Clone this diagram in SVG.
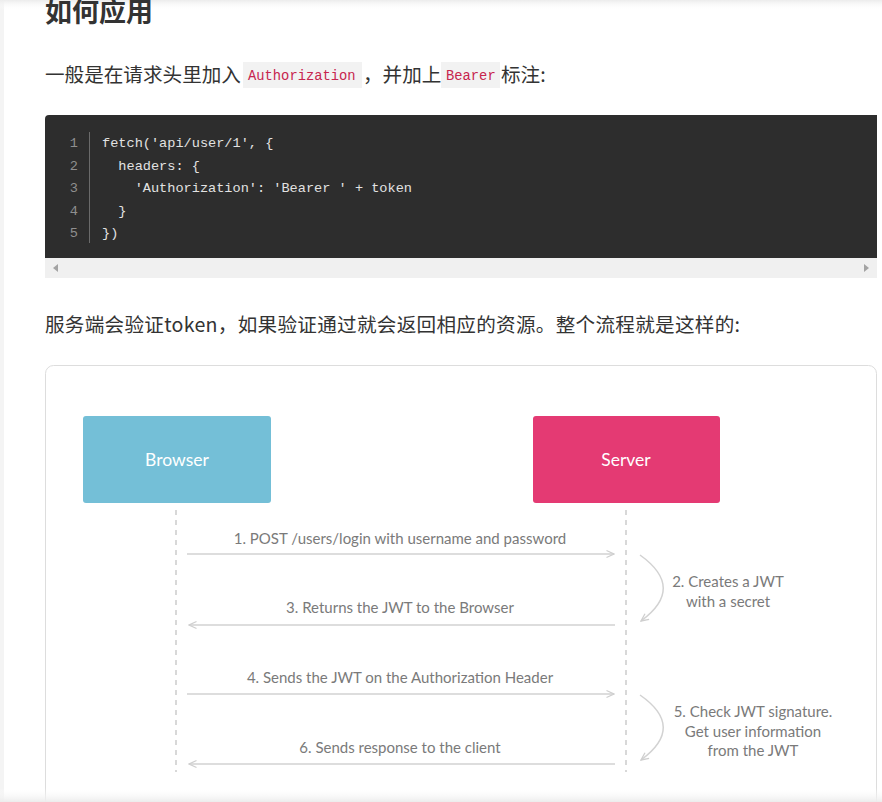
<svg xmlns="http://www.w3.org/2000/svg" width="882" height="802" viewBox="0 0 882 802">
<defs>
  <linearGradient id="topfade" x1="0" y1="0" x2="0" y2="1">
    <stop offset="0" stop-color="#ececec"/>
    <stop offset="1" stop-color="#ffffff" stop-opacity="0"/>
  </linearGradient>
  <linearGradient id="botfade" x1="0" y1="0" x2="0" y2="1">
    <stop offset="0" stop-color="#ffffff" stop-opacity="0"/>
    <stop offset="1" stop-color="#ececec"/>
  </linearGradient>
  <marker id="arr" viewBox="0 0 10 10" refX="9" refY="5" markerWidth="10" markerHeight="10" markerUnits="userSpaceOnUse" orient="auto">
    <path d="M1.5,1.5 L9,5 L1.5,8.5" fill="none" stroke="#cfcfcf" stroke-width="1.3"/>
  </marker>
</defs>
<style>
  .cjk { font-family: "Noto Sans CJK SC", "Liberation Sans", sans-serif; fill: #333; }
  .mono { font-family: "Liberation Mono", "DejaVu Sans Mono", monospace; }
  .code { fill: #e2e2e2; font-size: 13.6px; }
  .ln { fill: #8f8f8f; font-size: 13.6px; text-anchor: end; }
  .inl { fill: #c7254e; font-size: 13.8px; }
  .lbl { font-family: Lato, "Open Sans", sans-serif; font-size: 15px; fill: #7a7a7a; text-anchor: middle; }
  .box { font-family: Lato, "Open Sans", sans-serif; font-size: 17.5px; fill: #ffffff; text-anchor: middle; }
  .flow { stroke: #d2d2d2; stroke-width: 1.5; fill: none; }
  .life { stroke: #cccccc; stroke-width: 1.5; stroke-dasharray: 5 5; }
</style>
<rect width="882" height="802" fill="#ffffff"/>
<rect x="0" y="0" width="4" height="802" fill="#f4f4f4"/>
<rect x="0" y="0" width="882" height="10" fill="url(#topfade)"/>

<text class="cjk" x="45" y="22" font-size="27" font-weight="bold">如何应用</text>

<g id="line1">
  <text class="cjk" x="45" y="82" font-size="19.6">一般是在请求头里加入</text>
  <rect x="243" y="62" width="119" height="26" fill="#f2f2f2"/>
  <text class="mono inl" x="248" y="80">Authorization</text>
  <text class="cjk" x="363" y="82" font-size="19.6">，并加上</text>
  <rect x="441" y="62" width="59" height="26" fill="#f2f2f2"/>
  <text class="mono inl" x="446" y="80">Bearer</text>
  <text class="cjk" x="501" y="82" font-size="19.6">标注:</text>
</g>

<g id="codeblock">
  <path d="M49,115 H877 V258 H45 V119 Q45,115 49,115 Z" fill="#2d2d2d"/>
  <rect x="45" y="258" width="832" height="20" fill="#f0f0f0"/>
  <path d="M58,264 L53,268 L58,272 Z" fill="#a3a3a3"/>
  <path d="M864,264 L869,268 L864,272 Z" fill="#a3a3a3"/>
  <line x1="89.5" y1="132" x2="89.5" y2="243" stroke="#6a6a6a" stroke-width="1"/>
  <text class="mono ln" x="78" y="147">1</text>
  <text class="mono ln" x="78" y="169.5">2</text>
  <text class="mono ln" x="78" y="192">3</text>
  <text class="mono ln" x="78" y="214.5">4</text>
  <text class="mono ln" x="78" y="237">5</text>
  <text class="mono code" x="102" y="147" xml:space="preserve">fetch('api/user/1', {</text>
  <text class="mono code" x="102" y="169.5" xml:space="preserve">  headers: {</text>
  <text class="mono code" x="102" y="192" xml:space="preserve">    'Authorization': 'Bearer ' + token</text>
  <text class="mono code" x="102" y="214.5" xml:space="preserve">  }</text>
  <text class="mono code" x="102" y="237" xml:space="preserve">})</text>
</g>

<text class="cjk" x="45" y="332" font-size="19.6" textLength="695" lengthAdjust="spacing">服务端会验证token，如果验证通过就会返回相应的资源。整个流程就是这样的:</text>

<rect x="45.5" y="365.5" width="831" height="460" rx="8" fill="#ffffff" stroke="#dddddd" stroke-width="1"/>

<g id="browser">
  <rect x="83" y="416" width="188" height="87" rx="3" fill="#74bfd7"/>
  <text class="box" x="177" y="466">Browser</text>
</g>
<g id="server">
  <rect x="533" y="416" width="187" height="87" rx="3" fill="#e43a73"/>
  <text class="box" x="626" y="466">Server</text>
</g>

<g id="connectors">
  <line class="life" x1="176" y1="510" x2="176" y2="772"/>
  <line class="life" x1="626" y1="510" x2="626" y2="772"/>
  <line class="flow" x1="187" y1="554" x2="614" y2="554" marker-end="url(#arr)"/>
  <line class="flow" x1="615" y1="625" x2="189" y2="625" marker-end="url(#arr)"/>
  <line class="flow" x1="187" y1="694" x2="614" y2="694" marker-end="url(#arr)"/>
  <line class="flow" x1="615" y1="764" x2="189" y2="764" marker-end="url(#arr)"/>
  <path class="flow" d="M640,555 Q686,588 641,621" marker-end="url(#arr)"/>
  <path class="flow" d="M640,695 Q686,727 641,760" marker-end="url(#arr)"/>
</g>

<g id="labels">
  <text class="lbl" x="400" y="544">1. POST /users/login with username and password</text>
  <text class="lbl" x="400" y="613">3. Returns the JWT to the Browser</text>
  <text class="lbl" x="400" y="683">4. Sends the JWT on the Authorization Header</text>
  <text class="lbl" x="400" y="753">6. Sends response to the client</text>
  <text class="lbl" x="728" y="587">2. Creates a JWT</text>
  <text class="lbl" x="728" y="607">with a secret</text>
  <text class="lbl" x="753" y="717">5. Check JWT signature.</text>
  <text class="lbl" x="753" y="737">Get user information</text>
  <text class="lbl" x="753" y="756">from the JWT</text>
</g>

<rect x="0" y="788" width="882" height="14" fill="url(#botfade)"/>
</svg>
